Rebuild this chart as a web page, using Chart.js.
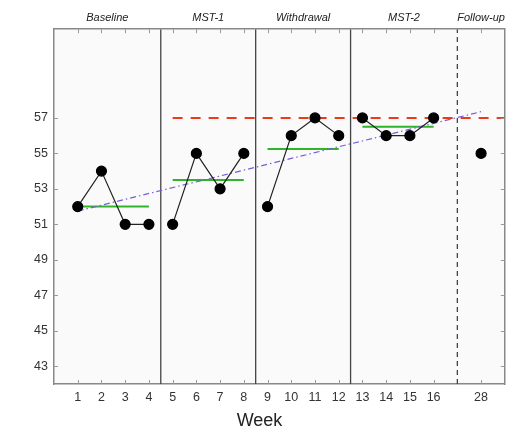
<!DOCTYPE html>
<html>
<head>
<meta charset="utf-8">
<script src="https://cdn.jsdelivr.net/npm/chart.js@4"></script>
<style>
  html, body { margin: 0; padding: 0; background: #fff; }
  #wrap { width: 511px; height: 430px; }
</style>
</head>
<body>
<div id="wrap"><canvas id="myChart"></canvas></div>
<script>
// data
const weekLabels = ["1", "2", "3", "4", "5", "6", "7", "8", "9", "10", "11", "12", "13", "14", "15", "16", "28"];
const baselineWeeks = [1, 2, 3, 4];
const baselineScores = [52, 54, 51, 51];
const mst1Weeks = [5, 6, 7, 8];
const mst1Scores = [51, 55, 53, 55];
const withdrawalWeeks = [9, 10, 11, 12];
const withdrawalScores = [52, 56, 57, 56];
const mst2Weeks = [13, 14, 15, 16];
const mst2Scores = [57, 56, 56, 57];
const followUpWeeks = [28];
const followUpScores = [55];

const phaseNames = ["Baseline", "MST-1", "Withdrawal", "MST-2", "Follow-up"];
const phaseMeans = [52, 53.5, 55.25, 56.5];
const criterion = 57;          // red dashed line, from week 5 on
const trendWeeks = [1, 28];
const trendValues = [51.75, 57.35];
const yTicks = [43, 45, 47, 49, 51, 53, 55, 57];

// axis is broken after week 16: week 28 sits one slot after the follow-up divider
const pos = (w) => (w <= 16 ? w : 18);
const xMin = 0, xMax = 19, yMin = 42, yMax = 62;
const boundaries = [4.5, 8.5, 12.5];
const followUpBoundary = 17;
const phaseEdges = [xMin, 4.5, 8.5, 12.5, 17, xMax];
const phaseCenters = phaseNames.map((_, i) => (phaseEdges[i] + phaseEdges[i + 1]) / 2);

const pts = (ws, vs) => ws.map((w, i) => ({ x: pos(w), y: vs[i] }));

const FONT = "'Liberation Sans', Arial, sans-serif";

const phaseSets = [
    [baselineWeeks, baselineScores],
    [mst1Weeks, mst1Scores],
    [withdrawalWeeks, withdrawalScores],
    [mst2Weeks, mst2Scores],
    [followUpWeeks, followUpScores],
].map(([w, v]) => ({
    type: "line",
    data: pts(w, v),
    borderColor: "#222",
    borderWidth: 1.2,
    backgroundColor: "#000",
    pointBackgroundColor: "#000",
    pointBorderColor: "#000",
    pointRadius: 5,
}));

const meanSets = [baselineWeeks, mst1Weeks, withdrawalWeeks, mst2Weeks].map((w, i) => ({
    type: "line",
    data: [{ x: pos(w[0]), y: phaseMeans[i] }, { x: pos(w[w.length - 1]), y: phaseMeans[i] }],
    borderColor: "#2fb52a",
    borderWidth: 2,
    pointRadius: 0,
}));

const dividerSets = boundaries.map((b) => ({
    type: "line",
    data: [{ x: b, y: yMin }, { x: b, y: yMax }],
    borderColor: "#444",
    borderWidth: 1.3,
    pointRadius: 0,
}));
dividerSets.push({
    type: "line",
    data: [{ x: followUpBoundary, y: yMin }, { x: followUpBoundary, y: yMax }],
    borderColor: "#444",
    borderWidth: 1.3,
    borderDash: [5, 4],
    pointRadius: 0,
});

// draw the plot background and inward tick marks on all four sides
const frame = {
    id: "frame",
    beforeDraw(chart) {
        const { ctx, chartArea: a } = chart;
        ctx.save();
        ctx.fillStyle = "#fafafa";
        ctx.fillRect(a.left, a.top, a.right - a.left, a.bottom - a.top);
        ctx.restore();
    },
    afterDatasetsDraw(chart) {
        const { ctx, chartArea: a, scales } = chart;
        ctx.save();
        ctx.strokeStyle = "#999";
        ctx.lineWidth = 1;
        const t = 4;
        scales.x.ticks.forEach((tk) => {
            const px = Math.round(scales.x.getPixelForValue(tk.value)) + 0.5;
            ctx.beginPath();
            ctx.moveTo(px, a.bottom); ctx.lineTo(px, a.bottom - t);
            ctx.moveTo(px, a.top); ctx.lineTo(px, a.top + t);
            ctx.stroke();
        });
        scales.y.ticks.forEach((tk) => {
            const py = Math.round(scales.y.getPixelForValue(tk.value)) + 0.5;
            ctx.beginPath();
            ctx.moveTo(a.left, py); ctx.lineTo(a.left + t, py);
            ctx.moveTo(a.right, py); ctx.lineTo(a.right - t, py);
            ctx.stroke();
        });
        ctx.restore();
    },
};

const ctx = document.getElementById("myChart").getContext("2d");
const myChart = new Chart(ctx, {
    type: "scatter",
    data: {
        datasets: [
            ...phaseSets,
            {
                type: "line",
                data: [{ x: pos(5), y: criterion }, { x: xMax, y: criterion }],
                borderColor: "#ee3a1a",
                borderWidth: 2,
                borderDash: [10, 8],
                pointRadius: 0,
            },
            {
                type: "line",
                data: pts(trendWeeks, trendValues),
                borderColor: "#7a5cd6",
                borderWidth: 1.2,
                borderDash: [6, 3, 1.5, 3],
                pointRadius: 0,
            },
            ...meanSets,
            ...dividerSets,
        ],
    },
    options: {
        responsive: true,
        maintainAspectRatio: false,
        animation: false,
        layout: { padding: { left: 12, right: 4, top: 6, bottom: 0 } },
        plugins: {
            legend: { display: false },
            tooltip: { enabled: false },
            title: {
                display: true,
                position: "bottom",
                text: "Week",
                color: "#222",
                font: { family: FONT, size: 18, weight: "normal", lineHeight: 1 },
                padding: { top: 1, bottom: 0 },
            },
        },
        scales: {
            x: {
                type: "linear",
                position: "bottom",
                min: xMin,
                max: xMax,
                afterBuildTicks: (s) => { s.ticks = weekLabels.map((w) => ({ value: pos(Number(w)) })); },
                ticks: {
                    autoSkip: false,
                    maxRotation: 0,
                    padding: 6,
                    color: "#333",
                    font: { family: FONT, size: 12.5 },
                    callback: (v, i) => weekLabels[i],
                },
                grid: { display: false, drawTicks: false },
                border: { display: true, color: "#888", width: 1.5 },
            },
            x2: {
                type: "linear",
                position: "top",
                min: xMin,
                max: xMax,
                afterBuildTicks: (s) => { s.ticks = phaseCenters.map((c) => ({ value: c })); },
                ticks: {
                    autoSkip: false,
                    maxRotation: 0,
                    padding: 5,
                    color: "#222",
                    font: { family: FONT, size: 11, style: "italic" },
                    callback: (v, i) => phaseNames[i],
                },
                grid: { display: false, drawTicks: false },
                border: { display: true, color: "#888", width: 1.5 },
            },
            y: {
                type: "linear",
                min: yMin,
                max: yMax,
                afterFit: (s) => { s.width = 42; },
                afterBuildTicks: (s) => { s.ticks = yTicks.map((v) => ({ value: v })); },
                ticks: {
                    padding: 6,
                    color: "#333",
                    font: { family: FONT, size: 12.5 },
                },
                grid: { display: false, drawTicks: false },
                border: { display: true, color: "#888", width: 1.5 },
            },
            y2: {
                type: "linear",
                position: "right",
                min: yMin,
                max: yMax,
                ticks: { display: false },
                grid: { display: false, drawTicks: false },
                border: { display: true, color: "#888", width: 1.5 },
            },
        },
    },
    plugins: [frame],
});
</script>
</body>
</html>
